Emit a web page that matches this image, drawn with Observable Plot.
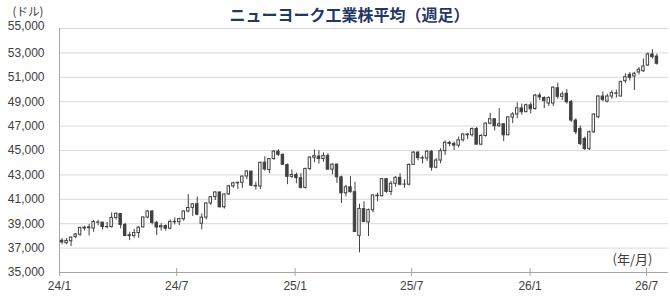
<!DOCTYPE html>
<html><head><meta charset="utf-8">
<script src="https://cdn.jsdelivr.net/npm/d3@7"></script>
<script src="https://cdn.jsdelivr.net/npm/@observablehq/plot@0.6"></script>
<style>html,body{margin:0;padding:0;background:#fff}#chart svg{display:block}</style>
</head><body><div id="chart"></div>
<script>
const title = "ニューヨーク工業株平均（週足）";
const yUnit = "(ドル)";
const xUnit = "(年/月)";
const firstWeek = "2024-01-05";
const open = [
37600,37400,37560,37900,38100,38600,38700,38600,39100,39090,38730,38720,39470,39800,38900,38050,37990,38240,38700,39500,40000,39070,38700,38800,38590,39150,39120,39370,40000,40300,40600,39000,39500,40660,41175,41560,40350,41400,42060,42310,42350,42870,43270,42100,42050,44000,43400,44300,44900,44650,43800,42840,
42990,42730,41940,43490,44400,44500,44300,44550,43430,43840,42800,41490,41980,41580,38000,40200,39100,40100,41300,41250,42650,41600,42270,42760,42200,42200,43820,44830,44370,44340,44900,43590,44180,44950,45630,45540,45400,45830,46310,46250,46760,45480,46190,47200,47560,46990,47150,46250,47700,47950,48450,48140,
48700,48400,49500,49300,48850,48850,50100,49400,49650,48960,47450,46770,45950,45130,46494,47725,49425,49000,49425,49650,49425,50680,51200,51070,51400,51500,51970,52870,52700];
const high = [
37790,37780,37900,38200,38720,38800,38930,39280,39280,39100,39100,39890,39890,39830,39030,38300,38530,38760,39530,40050,40080,39200,39000,38900,39300,39480,39450,40050,41380,40650,41200,39800,40700,41200,41600,41600,41450,42150,42400,42400,42900,43330,43300,42400,44050,44490,44300,45000,45070,44700,43900,43400,
43150,43100,43550,44500,45050,44970,44800,44750,43900,43900,42900,42150,42850,42400,40600,40800,40200,41350,41500,42700,42700,42450,42850,43100,42600,43900,44900,44900,44550,45000,45000,44350,45150,45800,45760,45700,46100,46350,46400,46850,46900,46300,47250,48050,47600,48430,47200,47750,48100,48900,48800,48800,
48900,49600,49700,49400,49400,50200,50520,49800,50000,49100,47600,47000,46100,46600,48000,49500,49800,49600,49900,49950,50700,51300,51400,51400,51800,52500,53000,53260,52900];
const low = [
37270,37270,37120,37770,37950,38400,37990,38300,38840,38480,38580,38650,39300,38580,37970,37610,37810,37800,38650,39400,38900,38030,38400,38400,38500,38900,38850,39200,39900,39600,39650,38500,39300,40500,40900,40300,40200,41300,41900,41800,41900,42600,42050,41750,41800,43300,43100,44200,44500,43800,42200,42700,
42270,41840,41840,43350,44000,43880,44050,43400,43000,42300,40660,41200,41500,38300,36610,39100,37950,39900,40800,41200,41500,41300,42000,42100,41900,42100,43800,44150,43900,44100,43300,43500,43900,44600,45300,45000,45200,45700,45900,46100,45470,45400,46100,47100,46600,46900,45730,46200,47200,47600,47900,48100,
48000,48300,49100,48440,48600,48600,49200,49100,48800,47300,46300,45400,45000,45000,46400,47600,49000,48900,49200,49300,49400,50500,50700,49920,51200,51400,51900,52500,52000];
const close = [
37466,37593,37863,38109,38654,38671,38628,39131,39087,38723,38715,39475,39807,38904,37983,37986,38240,38676,39513,40004,39070,38686,38799,38589,39150,39119,39376,40001,40288,40589,39737,39497,40660,41175,41563,40345,41394,42063,42313,42352,42864,43276,42114,42052,43989,43445,44297,44911,44643,43828,42840,42992,
42732,41938,43488,44424,44544,44303,44546,43428,43841,42802,41488,41985,41584,38315,40213,39142,40114,41317,41249,42655,41603,42270,42763,42197,42207,43819,44829,44371,44342,44902,43589,44176,44946,45632,45545,45401,45834,46315,46247,46758,45480,46190,47207,47563,46987,47147,46245,47716,47955,48458,48135,48711,
48382,49500,49350,49050,49300,50150,49400,49600,48960,47455,46494,45540,45130,46494,47950,49425,49150,49425,49700,49680,50600,51010,50960,51290,51620,51890,52870,52650,52110];
const xTicks = ["2024-01-01","2024-07-01","2025-01-01","2025-07-01","2026-01-01","2026-07-01"];
const xTickLabels = ["24/1","24/7","25/1","25/7","26/1","26/7"];
const yTicks = [35000,37000,39000,41000,43000,45000,47000,49000,51000,53000,55000];

const DAY = 864e5;
const start = new Date(firstWeek);
const data = open.map((o, i) => ({date: d3.utcWeek.offset(start, i), open: o, high: high[i], low: low[i], close: close[i]}));
const tickDates = xTicks.map(d => new Date(d));
const fmtX = d => xTickLabels[tickDates.findIndex(t => +t === +d)];
const fmtY = d3.format(",");
const ink = "#404040";
const axisGray = "#a6a6a6";
const numFont = "'Liberation Sans', Arial, sans-serif";

const chart = Plot.plot({
  width: 670, height: 296,
  marginLeft: 59, marginRight: 2, marginTop: 28, marginBottom: 24,
  style: {fontFamily: "'Noto Sans CJK JP', sans-serif", fontSize: "12px", color: ink, background: "#fff"},
  x: {type: "utc", domain: [new Date("2024-01-01"), new Date("2026-08-04")]},
  y: {domain: [35000, 55000]},
  marks: [
    Plot.gridY({ticks: yTicks.slice(1), stroke: "#d9d9d9", strokeOpacity: 1}),
    Plot.ruleY([35000], {stroke: axisGray}),
    Plot.ruleX([tickDates[0]], {stroke: axisGray}),
    Plot.axisX({ticks: tickDates, tickSize: 8, dy: -4, tickFormat: () => "", stroke: axisGray}),
    Plot.axisX({ticks: tickDates, tickSize: 0, tickPadding: 9, tickFormat: fmtX, fontSize: 12, fontFamily: numFont, fill: ink}),
    Plot.axisY({ticks: yTicks.slice(0, -1), tickSize: 0, tickPadding: 15, tickFormat: fmtY, fontSize: 12, fontFamily: numFont, fill: ink}),
    Plot.axisY({ticks: yTicks.slice(-1), tickSize: 0, tickPadding: 15, tickFormat: fmtY, fontSize: 12, fontFamily: numFont, fill: ink, dy: -2}),
    Plot.ruleX(data, {x: "date", y1: "low", y2: "high", stroke: ink, strokeWidth: 1}),
    Plot.rect(data, {
      x1: d => new Date(+d.date - 1.9 * DAY), x2: d => new Date(+d.date + 1.9 * DAY),
      y1: "open", y2: "close",
      fill: d => d.close >= d.open ? "#fff" : ink, stroke: ink, strokeWidth: 1
    }),
    Plot.text([title], {text: d => d, frameAnchor: "top", lineAnchor: "middle", dx: -14.5, dy: -13, fontSize: 16, fontWeight: "bold", fill: "#1f3864"}),
    Plot.text([yUnit], {text: d => d, frameAnchor: "top-left", lineAnchor: "middle", textAnchor: "start", dx: -47, dy: -16, fontSize: 11.5, fill: ink}),
    Plot.text([xUnit], {text: d => d, frameAnchor: "bottom-right", lineAnchor: "middle", textAnchor: "end", dx: -16, dy: -13, fontSize: 13, fill: ink})
  ]
});
document.getElementById("chart").appendChild(chart);
</script>
</body></html>
